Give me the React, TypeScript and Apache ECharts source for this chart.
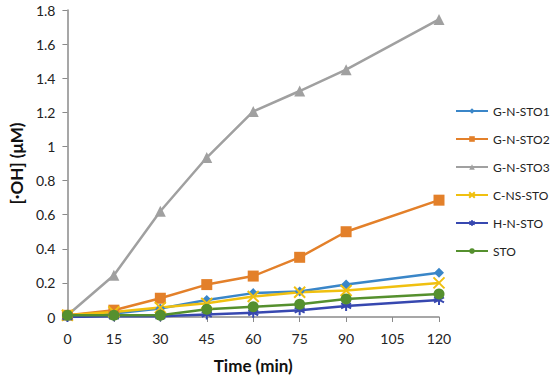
import React, { useEffect, useRef } from "react";
import * as echarts from "echarts";

const times = [0, 15, 30, 45, 60, 75, 90, 120];
const seriesNames = ["G-N-STO1", "G-N-STO2", "G-N-STO3", "C-NS-STO", "H-N-STO", "STO"];
const gnsto1 = [0.01, 0.02, 0.05, 0.1, 0.14, 0.15, 0.19, 0.26];
const gnsto2 = [0.01, 0.04, 0.11, 0.19, 0.24, 0.35, 0.5, 0.685];
const gnsto3 = [0.01, 0.245, 0.62, 0.935, 1.205, 1.325, 1.45, 1.745];
const cnssto = [0.01, 0.03, 0.055, 0.08, 0.12, 0.145, 0.155, 0.2];
const hnsto = [0.0, 0.004, 0.005, 0.015, 0.025, 0.04, 0.065, 0.1];
const sto = [0.01, 0.01, 0.01, 0.045, 0.06, 0.075, 0.105, 0.135];
const xTicks = [0, 15, 30, 45, 60, 75, 90, 105, 120];

const colors = ["#3a86c8", "#e3802a", "#a0a0a0", "#f0c010", "#3748b0", "#55902e"];
const symbols = [
  "diamond",
  "rect",
  "triangle",
  "path://M0,0L10,10M10,0L0,10",
  "path://M5,0L5,10M0,2.5L10,7.5M0,7.5L10,2.5",
  "circle",
];
const sizes = [10, 11, 11, 11, 10, 11];
const FONT = "Lato, 'Open Sans', sans-serif";

export default function App() {
  const ref = useRef<HTMLDivElement>(null);
  useEffect(() => {
    const chart = echarts.init(ref.current!, null, { renderer: "svg" });
    const all = [gnsto1, gnsto2, gnsto3, cnssto, hnsto, sto];
    chart.setOption({
      animation: false,
      textStyle: { fontFamily: FONT },
      grid: { left: 65, right: 111, top: 10, bottom: 71, containLabel: false },
      legend: {
        orient: "vertical",
        left: 455,
        top: 105,
        padding: 0,
        itemWidth: 32,
        itemHeight: 7,
        itemGap: 16,
        data: seriesNames,
        textStyle: { fontSize: 12, color: "#222", fontFamily: FONT },
      },
      xAxis: {
        type: "value",
        min: 0,
        max: 120,
        interval: 15,
        name: "Time (min)",
        nameLocation: "middle",
        nameGap: 40,
        nameTextStyle: { fontSize: 17, fontWeight: "bold", color: "#111", fontFamily: FONT },
        axisLine: { show: true, lineStyle: { color: "#8a8a8a", width: 1.5 } },
        axisTick: { show: true, inside: false, length: 5, lineStyle: { color: "#8a8a8a" } },
        axisLabel: {
          fontSize: 14,
          color: "#222",
          margin: 14,
          customValues: xTicks,
        },
        splitLine: { show: false },
      },
      yAxis: {
        type: "value",
        min: 0,
        max: 1.8,
        interval: 0.2,
        name: "[·OH] (μM)",
        nameLocation: "middle",
        nameGap: 40,
        nameTextStyle: { fontSize: 17, fontWeight: "bold", color: "#111", fontFamily: FONT },
        axisLine: { show: true, lineStyle: { color: "#8a8a8a", width: 1.5 } },
        axisTick: { show: true, inside: false, length: 5, lineStyle: { color: "#8a8a8a" } },
        axisLabel: { fontSize: 14, color: "#222", margin: 12 },
        splitLine: { show: false },
      },
      series: seriesNames.map((name, i) => ({
        name,
        type: "line",
        data: times.map((t, j) => [t, all[i][j]]),
        symbol: symbols[i],
        symbolSize: sizes[i],
        showSymbol: true,
        color: colors[i],
        lineStyle: { color: colors[i], width: 2.5 },
        itemStyle: {
          color: colors[i],
          borderColor: colors[i],
          borderWidth: i === 3 || i === 4 ? 2 : 0,
        },
      })),
    });
    return () => chart.dispose();
  }, []);
  return (
    <div
      ref={ref}
      style={{ position: "absolute", left: 0, top: 0, width: 550, height: 388, background: "#fff" }}
    />
  );
}
